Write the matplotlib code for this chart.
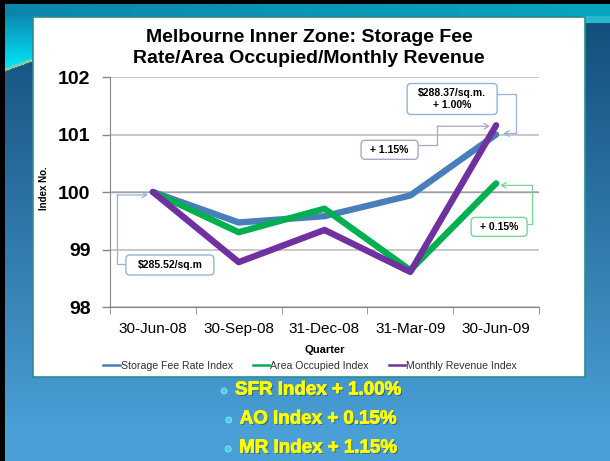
import numpy as np
import matplotlib
matplotlib.use('Agg')
import matplotlib.pyplot as plt
import matplotlib.colors as mcolors
import matplotlib.patheffects as pe
from matplotlib.patches import FancyBboxPatch, Rectangle, Circle
from matplotlib.lines import Line2D

plt.rcParams['font.family'] = ['Liberation Sans', 'DejaVu Sans']

# ---------------- data ----------------
quarters = ['30-Jun-08', '30-Sep-08', '31-Dec-08', '31-Mar-09', '30-Jun-09']
sfr_index = [100.0, 99.47, 99.58, 99.94, 101.0]
ao_index = [100.0, 99.30, 99.71, 98.64, 100.15]
mr_index = [100.0, 98.78, 99.34, 98.61, 101.16]
series_names = ['Storage Fee Rate Index', 'Area Occupied Index', 'Monthly Revenue Index']
series_colors = ['#4a7ebb', '#00b050', '#7030a0']
y_ticks = [98, 99, 100, 101, 102]
title = 'Melbourne Inner Zone: Storage Fee\nRate/Area Occupied/Monthly Revenue'
callout_texts = ['\\$285.52/sq.m', '\\$288.37/sq.m.\n+ 1.00%', '+ 1.15%', '+ 0.15%']
bullets = ['SFR Index + 1.00%', 'AO Index + 0.15%', 'MR Index + 1.15%']

W, H = 610, 461
fig = plt.figure(figsize=(W / 100, H / 100), dpi=100)

# ---------------- background ----------------
def rgb(c):
    return np.array(mcolors.to_rgb(c))

yy, xx = np.mgrid[0:H, 0:W]
t = np.clip((yy - 30) / 400, 0, 1)[..., None]
img = rgb('#14507e') * (1 - t) + rgb('#4a9fd6') * t
s = (xx / W)[..., None]
band = rgb('#0b86ad') * (1 - s) + rgb('#06a6be') * s
m = yy < 17
img[m] = band[m]
sw = 70 - (xx - 5) * 0.36
ct = np.clip((yy - 17) / 45, 0, 1)[..., None]
cyan = rgb('#0a8cb5') * (1 - ct) + rgb('#00dcef') * ct
m = (yy >= 17) & (yy < sw) & (xx < 40)
img[m] = cyan[m]
m = (np.abs(yy - sw) < 1.5) & (xx < 40)
img[m] = rgb('#7fd0a8')
m = (yy >= 17) & (yy < 24) & (xx > 580)
img[m] = rgb('#2ab8cc')
img[:5, :] = 0
img[:, :5] = 0

bg = fig.add_axes([0, 0, 1, 1], zorder=0)
bg.imshow(img, extent=(0, W, H, 0), aspect='auto', interpolation='bilinear')
bg.set_xlim(0, W)
bg.set_ylim(H, 0)
bg.axis('off')
bg.add_patch(Rectangle((33, 17), 552, 360, facecolor='white', edgecolor='#2b8f8f', lw=1.2))

# ---------------- main chart ----------------
ax = fig.add_axes([110 / W, 1 - 307 / H, 429 / W, 230 / H], zorder=1)
ax.patch.set_visible(False)
x = np.arange(len(quarters))
all_series = [sfr_index, ao_index, mr_index]
for vals, name, col in zip(all_series, series_names, series_colors):
    ax.plot(x, vals, color=col, lw=4.6, label=name,
            solid_capstyle='round', solid_joinstyle='round', zorder=3)
ax.set_xlim(-0.5, len(quarters) - 0.5)
ax.set_ylim(y_ticks[0], y_ticks[-1])
ax.set_yticks(y_ticks)
ax.set_yticklabels([str(v) for v in y_ticks], fontsize=14, fontweight='bold')
ax.tick_params(axis='y', length=6, width=1, color='#868686', pad=8)
ax.set_xticks(x)
ax.set_xticklabels(quarters, fontsize=11)
ax.set_xticks(np.arange(-0.5, len(quarters), 1), minor=True)
ax.tick_params(axis='x', which='major', length=0, pad=11)
ax.tick_params(axis='x', which='minor', length=5, color='#868686')
for sp in ['top', 'right']:
    ax.spines[sp].set_visible(False)
for sp in ['left', 'bottom']:
    ax.spines[sp].set_color('#868686')
ax.grid(axis='y', color='#c4c4c4', lw=1.3)
ax.axhline(100, color='#a0a0a0', lw=1.0, zorder=1)
ax.set_axisbelow(True)

fig.text(309 / W, 1 - 48 / H, title, ha='center', va='center', fontsize=14,
         fontweight='bold', linespacing=1.3)
fig.text(44 / W, 1 - 188 / H, 'Index No.', rotation=90, fontsize=7, fontweight='bold',
         ha='center', va='center')
fig.text(325 / W, 1 - 350 / H, 'Quarter', fontsize=8, fontweight='bold',
         ha='center', va='center')

handles = [Line2D([], [], color=c, lw=1.8) for c in series_colors]
fig.legend(handles, series_names, ncol=3, loc='center',
           bbox_to_anchor=(310 / W, 1 - 366 / H), fontsize=7.6, frameon=False,
           handlelength=1.55, handletextpad=0.1, columnspacing=1.9,
           labelcolor='#303030')

# ---------------- callouts ----------------
ov = fig.add_axes([0, 0, 1, 1], zorder=5)
ov.set_xlim(0, W)
ov.set_ylim(H, 0)
ov.axis('off')
ov.patch.set_visible(False)


def to_px(xv, yv):
    dx, dy = ax.transData.transform((xv, yv))
    return dx, H - dy

callouts = [
    dict(series=0, idx=0, text=callout_texts[0], color='#95b3d7', center=(17, 73), size=(88, 20),
         path=[(-27, 72), (-36, 72), (-36, 3), (-5, 3)]),
    dict(series=0, idx=4, text=callout_texts[1], color='#95b3d7', center=(-44, -35.5), size=(90, 31),
         path=[(1, -40), (20, -40), (20, -1), (7, -1)]),
    dict(series=2, idx=4, text=callout_texts[2], color='#b3a2c7', center=(-106.5, 24.5), size=(57, 19),
         path=[(-78, 20), (-59, 20), (-59, 1), (-6, 1)]),
    dict(series=1, idx=4, text=callout_texts[3], color='#77d59a', center=(3, 43.5), size=(56, 19),
         path=[(31, 41), (36, 41), (36, 2), (4, 2)]),
]
for c in callouts:
    px, py = to_px(c['idx'], all_series[c['series']][c['idx']])
    cx, cy = px + c['center'][0], py + c['center'][1]
    w, h = c['size']
    ov.add_patch(FancyBboxPatch((cx - w / 2, cy - h / 2), w, h,
                                boxstyle='round,pad=0,rounding_size=4',
                                facecolor='white', edgecolor=c['color'], lw=1.0, zorder=6))
    ov.text(cx, cy, c['text'], ha='center', va='center', fontsize=7.5, fontweight='bold',
            linespacing=1.3, zorder=7)
    pts = [(px + a, py + b) for a, b in c['path']]
    ov.plot([p[0] for p in pts[:-1]], [p[1] for p in pts[:-1]], color=c['color'], lw=0.9, zorder=5)
    ov.annotate('', xy=pts[-1], xytext=pts[-2], xycoords='data',
                arrowprops=dict(arrowstyle='->,head_length=0.35,head_width=0.2',
                                color=c['color'], lw=0.9, shrinkA=0, shrinkB=0), zorder=5)

# ---------------- bullets ----------------
bullet_y = [390, 419, 448]
btexts = []
for b, yb in zip(bullets, bullet_y):
    tt = fig.text(318 / W, 1 - yb / H, b, ha='center', va='center', fontsize=13.5,
                  fontweight='bold', color='#ffff00', zorder=10,
                  path_effects=[pe.SimplePatchShadow(offset=(1, -1), shadow_rgbFace='#1a4a70', alpha=0.6),
                                pe.withStroke(linewidth=0.6, foreground='#ffff00')])
    btexts.append(tt)
fig.canvas.draw()
for tt, yb in zip(btexts, bullet_y):
    bb = tt.get_window_extent()
    ov.add_patch(Circle((bb.x0 - 11, yb + 1), 3.0, facecolor='#3fd3e3', edgecolor='#a0f0f8', lw=0.5))

fig.savefig('out.png', dpi=100)
